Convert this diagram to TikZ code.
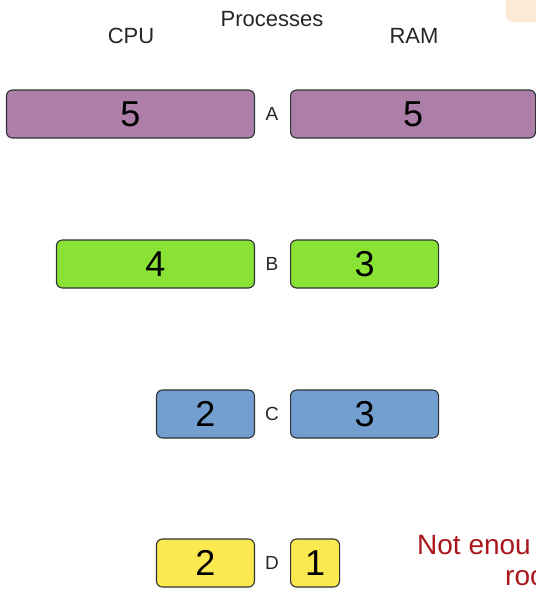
\documentclass[tikz,border=0pt]{standalone}
\usepackage{fontspec}
\setmainfont{Liberation Sans}
\usepackage{tikz}
\usetikzlibrary{positioning}
\definecolor{plum}{HTML}{AD7FA8}
\definecolor{chameleon}{HTML}{8AE234}
\definecolor{skyblue}{HTML}{729FCF}
\definecolor{butter}{HTML}{FCE94F}
\definecolor{edgegray}{HTML}{2E3436}
\definecolor{warnred}{HTML}{A8171C}
\definecolor{peach}{HTML}{FBEAD6}
\tikzset{
  procbox/.style={draw=edgegray, line width=1.1pt, rounded corners=6pt,
    minimum height=48pt, inner sep=0pt, font=\fontsize{36}{36}\selectfont},
  cpubox/.style={procbox, anchor=east},
  rambox/.style={procbox, anchor=west},
  proclabel/.style={font=\fontsize{19}{19}\selectfont, text=black!85},
  headlabel/.style={font=\fontsize{22}{22}\selectfont, text=black!85},
  warntext/.style={anchor=west, text=warnred, inner sep=0pt,
    font=\fontsize{28}{28}\selectfont}
}

\begin{document}
\begin{tikzpicture}[x=1pt, y=-1pt]
  \useasboundingbox (0,0) rectangle (536,590);
  \clip (0,0) rectangle (536,590);

  % headers
  \node[headlabel] (cpuhead) at (131,36) {CPU};
  \node[headlabel] (prochead) at (272,19) {Processes};
  \node[headlabel] (ramhead) at (414,36) {RAM};
  \fill[peach, rounded corners=7pt] (506,-20) rectangle (600,22);

  % process A
  \node[proclabel] (labA) at (272,114) {A};
  \node[cpubox, fill=plum, minimum width=248pt] (cpuA) at (255,114) {5};
  \node[rambox, fill=plum, minimum width=245pt] (ramA) at (290,114) {5};

  % process B
  \node[proclabel] (labB) at (272,264) {B};
  \node[cpubox, fill=chameleon, minimum width=198pt] (cpuB) at (255,264) {4};
  \node[rambox, fill=chameleon, minimum width=148pt] (ramB) at (290,264) {3};

  % process C
  \node[proclabel] (labC) at (272,414) {C};
  \node[cpubox, fill=skyblue, minimum width=98pt] (cpuC) at (255,414) {2};
  \node[rambox, fill=skyblue, minimum width=148pt] (ramC) at (290,414) {3};

  % process D
  \node[proclabel] (labD) at (272,563) {D};
  \node[cpubox, fill=butter, minimum width=98pt] (cpuD) at (255,563) {2};
  \node[rambox, fill=butter, minimum width=49pt] (ramD) at (290,563) {1};

  % warning, as far as the picture shows it
  \node[warntext] (warn1) at (417,545) {Not enou};
  \node[warntext] (warn2) at (505,578) {roo};
\end{tikzpicture}
\end{document}
